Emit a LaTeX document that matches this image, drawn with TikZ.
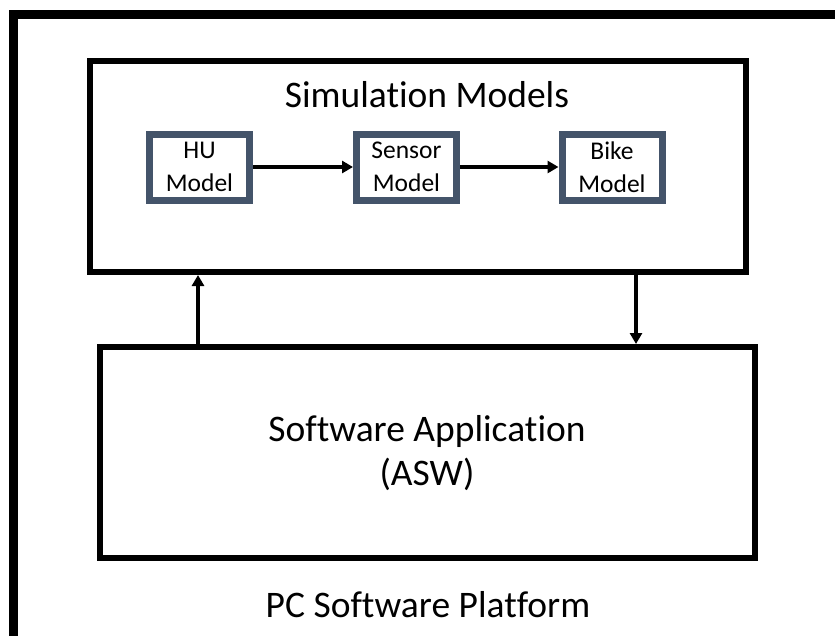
\documentclass[tikz,border=0pt]{standalone}
\usepackage{fontspec}
\setmainfont[Ligatures=NoCommon]{Carlito}
\usepackage{xcolor}
\usetikzlibrary{arrows.meta, positioning, calc}
\definecolor{ModelSlate}{HTML}{44546A}
\definecolor{LineBlack}{HTML}{000000}
\tikzset{
    % Box styles
    groupbox/.style={
        rectangle,
        draw=LineBlack,
        line width=6pt,
        fill=white,
        inner sep=0pt
    },
    modelbox/.style={
        rectangle,
        draw=ModelSlate,
        line width=7pt,
        fill=white,
        minimum width=100pt,
        minimum height=66pt,
        inner sep=0pt,
        align=center,
        font=\fontsize{25.5}{32.5}\selectfont
    },
    bigtext/.style={
        align=center,
        font=\fontsize{37.5}{44}\selectfont
    },
    % Arrow styles
    flowarrow/.style={
        -{Triangle[length=11pt,width=12pt]},
        line width=4pt,
        LineBlack
    }
}
\begin{document}
\begin{tikzpicture}[x=1pt,y=-1pt]
    \useasboundingbox (0,0) rectangle (835,635);
    \clip (0,0) rectangle (835,635);

    % Platform frame
    \draw[line width=9pt,LineBlack] (13.5,14.5) rectangle (870,670);
    \node[bigtext] (platform) at (428,605) {PC Software Platform};

    % Simulation models group
    \node[groupbox,minimum width=656pt,minimum height=211pt] (sim) at (418,166.5) {};
    \node[bigtext] (simtitle) at (427,95) {Simulation Models};
    \node[modelbox] (hu) at (199.5,167) {HU\\Model};
    \node[modelbox] (sensor) at (406.5,167) {Sensor\\Model};
    \node[modelbox] (bike) at (612,167) {Bike\\Model};
    \draw[flowarrow] (hu) -- (sensor);
    \draw[flowarrow] (sensor) -- (bike);

    % Software application
    \node[groupbox,minimum width=655pt,minimum height=211pt] (asw) at (427.5,452.5) {};
    \node[bigtext] (aswtext) at (427,453) {Software Application\\(ASW)};

    % Exchange between application and models
    \draw[flowarrow] ([xshift=101pt]asw.north west) -- ([xshift=101pt]asw.north west |- sim.south);
    \draw[flowarrow] ([xshift=539pt]asw.north west |- sim.south) -- ([xshift=539pt]asw.north west);
\end{tikzpicture}
\end{document}
